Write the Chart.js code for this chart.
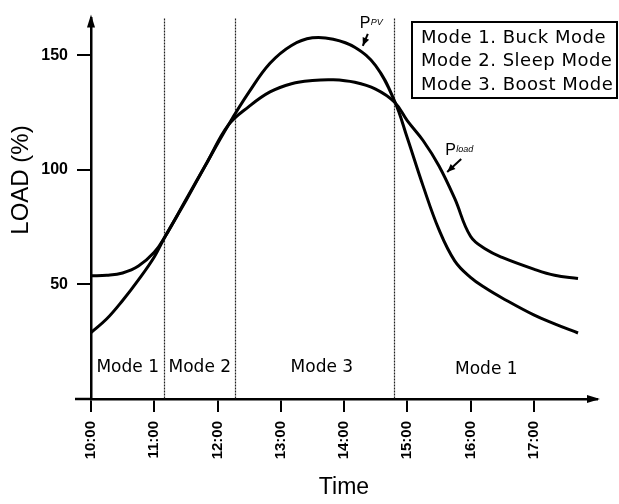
<!DOCTYPE html>
<html><head><meta charset="utf-8">
<script src="https://cdn.jsdelivr.net/npm/chart.js@4/dist/chart.umd.min.js"></script>
<style>html,body{margin:0;padding:0;background:#fff;}</style>
</head><body>
<canvas id="c" width="619" height="504" style="display:block;width:619px;height:504px"></canvas>
<script>
// ---- data ----
const times = [10.0,10.25,10.5,10.75,11.0,11.17,11.5,11.83,12.17,12.5,12.83,13.17,13.5,13.83,14.17,14.5,14.8,15.0,15.25,15.5,15.75,16.0,16.25,16.5,17.0,17.33,17.7];
const pvValues = [29,35,43,52,62,70.8,86.5,103,119.5,134,146.5,154.3,157.6,157.0,153.5,145.5,130,114,93,74,60.3,53.1,48.2,44.1,36.7,32.8,28.8];
const loadValues = [53.8,54,55,58,64,70.8,87,103,119.5,127.7,134,137.6,139,139.3,138.2,135.2,129.5,121.5,112.8,101.8,87.5,71,65.2,61.8,56.7,54,52.6];
const hourTicks = [10,11,12,13,14,15,16,17];
const loadTicks = [50,100,150];
const modeBoundaries = [11.16,12.28,14.79];
const modeLabels = ['Mode 1','Mode 2','Mode 3','Mode 1'];
const modeLabelTimes = [10.58,11.72,13.65,16.25];
const modeLabelValues = [13.8,13.8,13.8,12.8];
const legendLines = ['Mode 1. Buck Mode','Mode 2. Sleep Mode','Mode 3. Boost Mode'];
const curveLabels = [
  {main:'P', sub:'PV', t:14.25, v:162, arrow:[8,6,3,18]},
  {main:'P', sub:'load', t:15.6, v:106.5, arrow:[16,4,2,17]}
];

function arrowHead(ctx, x1, y1, x2, y2, len, half){
  const a = Math.atan2(y2-y1, x2-x1);
  ctx.beginPath();
  ctx.moveTo(x2, y2);
  ctx.lineTo(x2 - len*Math.cos(a) + half*Math.sin(a), y2 - len*Math.sin(a) - half*Math.cos(a));
  ctx.lineTo(x2 - len*Math.cos(a) - half*Math.sin(a), y2 - len*Math.sin(a) + half*Math.cos(a));
  ctx.closePath();
  ctx.fill();
}

const decor = {
  id:'decor',
  beforeDatasetsDraw(chart){
    const {ctx, chartArea:a, scales:{x}} = chart;
    ctx.save();
    ctx.strokeStyle = '#222';
    ctx.lineWidth = 1.2;
    ctx.setLineDash([2,1]);
    modeBoundaries.forEach(t => {
      const px = Math.round(x.getPixelForValue(t)) + 0.5;
      ctx.beginPath(); ctx.moveTo(px, a.top); ctx.lineTo(px, a.bottom); ctx.stroke();
    });
    ctx.restore();
  },
  afterDraw(chart){
    const {ctx, chartArea:a, scales:{x, y}} = chart;
    ctx.save();
    ctx.fillStyle = '#000'; ctx.strokeStyle = '#000';
    // axis arrows
    arrowHead(ctx, a.left, a.top+20, a.left, a.top-4, 13, 4);
    arrowHead(ctx, a.right-20, a.bottom, a.right+3, a.bottom, 13, 4);
    ctx.lineWidth = 2.5;
    ctx.beginPath(); ctx.moveTo(a.left-16, a.bottom); ctx.lineTo(a.left, a.bottom); ctx.stroke();
    // mode labels
    ctx.font = '17px "DejaVu Sans"';
    ctx.textAlign = 'center'; ctx.textBaseline = 'middle';
    modeLabels.forEach((s,i) => {
      ctx.fillText(s, x.getPixelForValue(modeLabelTimes[i]), y.getPixelForValue(modeLabelValues[i]));
    });
    // legend box
    ctx.lineWidth = 2;
    ctx.strokeRect(412, 22, 205, 76);
    ctx.font = '18px "DejaVu Sans"';
    ctx.textAlign = 'left';
    try { ctx.letterSpacing = '0.5px'; } catch(e) {}
    legendLines.forEach((s,i) => ctx.fillText(s, 421, 38 + i*23.5));
    try { ctx.letterSpacing = '0px'; } catch(e) {}
    // curve labels
    curveLabels.forEach(l => {
      const px = x.getPixelForValue(l.t), py = y.getPixelForValue(l.v);
      ctx.textBaseline = 'alphabetic'; ctx.textAlign = 'left';
      ctx.font = '16px "Liberation Sans"';
      ctx.fillText(l.main, px, py);
      ctx.font = 'italic 9px "Liberation Sans"';
      ctx.fillText(l.sub, px + 11, py - 3);
      const [ax1, ay1, ax2, ay2] = l.arrow;
      ctx.lineWidth = 2;
      ctx.beginPath(); ctx.moveTo(px+ax1, py+ay1); ctx.lineTo(px+ax2, py+ay2); ctx.stroke();
      arrowHead(ctx, px+ax1, py+ay1, px+ax2, py+ay2, 8, 3.5);
    });
    // y axis title
    ctx.translate(21, 180);
    ctx.rotate(-Math.PI/2);
    ctx.textAlign = 'center'; ctx.textBaseline = 'middle';
    ctx.font = '24px "Liberation Sans"';
    ctx.fillText('LOAD (%)', 0, 0);
    ctx.restore();
  }
};

const mk = vals => times.map((t,i) => ({x:t, y:vals[i]}));
const tickFont = size => ({family:'"Liberation Sans", Arial, sans-serif', weight:'bold', size:size});

new Chart(document.getElementById('c'), {
  type:'line',
  data:{datasets:[
    {label:'P_PV', data:mk(pvValues), borderColor:'#000', borderWidth:3, pointRadius:0, tension:0.4, fill:false},
    {label:'P_load', data:mk(loadValues), borderColor:'#000', borderWidth:3, pointRadius:0, tension:0.4, fill:false}
  ]},
  options:{
    responsive:false, animation:false, devicePixelRatio:1,
    layout:{padding:{top:13, right:22, left:0, bottom:0}},
    plugins:{legend:{display:false}, tooltip:{enabled:false}},
    scales:{
      x:{type:'linear', min:10, max:18,
        afterBuildTicks: s => { s.ticks = hourTicks.map(v => ({value:v})); },
        ticks:{callback: v => v + ':00', minRotation:90, maxRotation:90, autoSkip:false, color:'#000',
               font:tickFont(15), padding:9},
        grid:{drawOnChartArea:false, drawTicks:true, tickLength:13, color:'#000', lineWidth:2},
        border:{display:true, color:'#000', width:2.5},
        title:{display:true, text:'Time', color:'#000', font:{family:'"Liberation Sans", Arial, sans-serif', size:23}, padding:{top:0, bottom:3}},
        afterFit: s => { s.height = 105; }
      },
      y:{min:0, max:166,
        afterBuildTicks: s => { s.ticks = loadTicks.map(v => ({value:v})); },
        ticks:{color:'#000', font:tickFont(16), padding:9},
        grid:{drawOnChartArea:false, drawTicks:true, tickLength:14, color:'#000', lineWidth:2},
        border:{display:true, color:'#000', width:2.5},
        afterFit: s => { s.width = 91; }
      }
    }
  },
  plugins:[decor]
});
</script>
</body></html>
